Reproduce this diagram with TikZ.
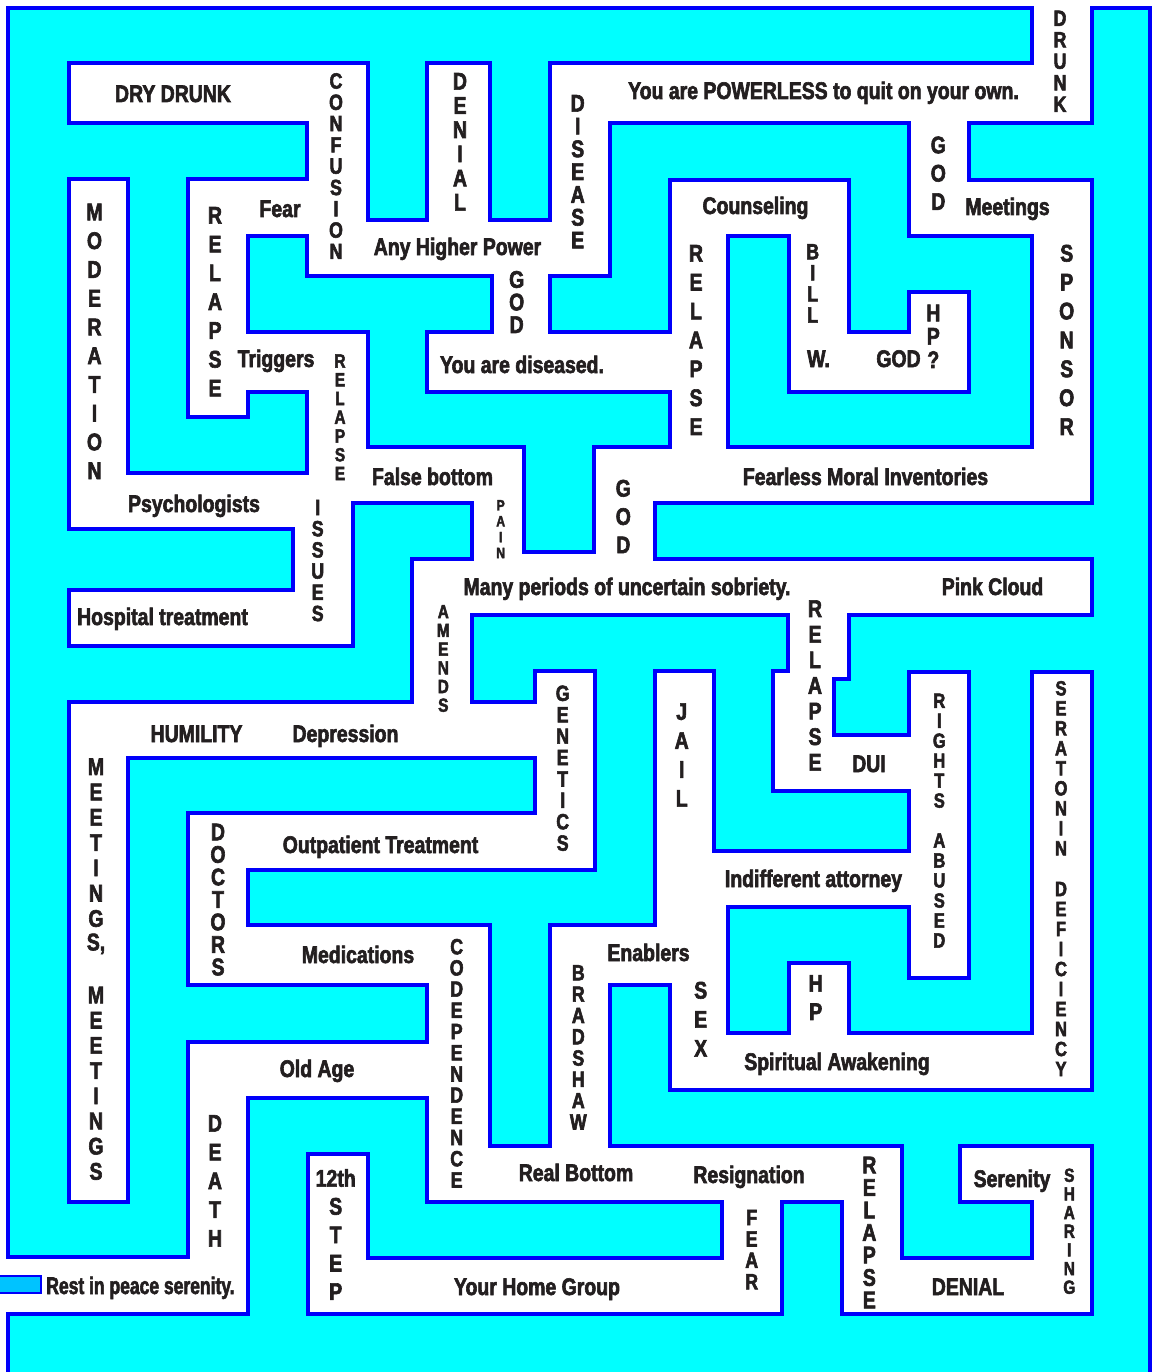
\documentclass[tikz,border=0pt]{standalone}
\usepackage{fontspec}
\usepackage{graphicx}
\setmainfont{Liberation Sans}[FakeStretch=0.81, BoldFeatures={FakeBold=2.5}]
\definecolor{wallcyan}{RGB}{0,255,255}
\definecolor{lineblue}{RGB}{0,0,250}
\definecolor{ink}{RGB}{35,31,32}
\definecolor{exitblue}{RGB}{0,195,255}

\tikzset{
  wall/.style={fill=wallcyan, draw=lineblue, line width=3.3pt},
  rim/.style={draw=lineblue, line width=3.3pt},
  floor/.style={fill=white},
  word/.style={text=ink, font=\fontsize{24}{24}\selectfont\bfseries, inner sep=0pt, anchor=base},
  letter/.style={text=ink, font=\fontsize{24}{24}\selectfont\bfseries, inner sep=0pt},
  stacked/.style={font=\fontsize{22}{22}\selectfont\bfseries},
  squeezed/.style={font=\fontsize{20.5}{20.5}\selectfont\bfseries},
  cramped/.style={font=\fontsize{19}{19}\selectfont\bfseries},
  minute/.style={font=\fontsize{15}{15}\selectfont\bfseries},
  exitbox/.style={fill=exitblue, draw=lineblue, line width=2.5pt}
}

% one letter under the other: [style]{name}{x}{y of first letter}{spacing}{letters}
\newcommand\vword[6][]{%
  \foreach \ch [count=\k from 0] in {#6}
    \node[letter,#1] (#2-\k) at (#3,#4+\k*#5) {\ch};}

% corridors: x1/y1/x2/y2 in pixels, y downwards
\newcommand\corridors{%
  69/63/368/123, 307/63/368/276, 188/179/368/236, 188/179/248/417,
  188/332/368/392, 307/332/368/503, 69/179/128/529, 69/473/353/529,
  293/473/353/646, 69/590/353/646, 307/447/524/503, 472/447/524/559,
  472/552/655/615, 594/447/655/559, 307/220/610/276, 427/63/490/276,
  550/63/610/276, 550/63/1092/123, 1032/-20/1092/123, 909/100/969/236,
  909/180/1092/236, 1032/180/1092/503, 492/250/550/350, 427/332/728/392,
  670/180/728/503, 670/180/849/236, 789/200/849/392, 789/332/969/392,
  909/292/969/392, 594/447/1092/503, 412/559/1092/615, 412/559/472/720,
  69/702/595/758, 535/671/595/870, 188/813/595/870, 69/702/128/1202,
  188/813/248/985, 188/925/490/985, 427/925/490/1202, 188/1042/490/1098,
  188/1042/248/1314, -20/1257/248/1314, 427/1146/902/1202, 308/1154/368/1314,
  308/1258/782/1314, 722/1146/782/1314, 842/1146/902/1314, 842/1258/1092/1314,
  1032/1146/1092/1314, 960/1146/1092/1202, 550/925/610/1170, 550/925/728/985,
  670/890/728/1090, 670/1033/1092/1090, 789/963/849/1050, 1032/672/1092/1090,
  909/672/969/978, 655/851/930/907, 655/671/714/940, 773/735/930/791,
  788/600/849/679, 773/671/834/791}

\begin{document}
\begin{tikzpicture}[x=1pt,y=-1pt]
\useasboundingbox (0,0) rectangle (1158,1372);
\clip (0,0) rectangle (1158,1372);

% walls
\path[wall] (8,8) rectangle (1150,1420);

% corridor outlines first, then the white floor over them
\foreach \xa/\ya/\xb/\yb in \corridors
  \draw[rim] (\xa,\ya) rectangle (\xb,\yb);
\foreach \xa/\ya/\xb/\yb in \corridors
  \fill[floor] (\xa+1.65,\ya+1.65) rectangle (\xb-1.65,\yb-1.65);

% margins and the way out
\fill[white] (-10,-10) rectangle (1170,6.3);
\fill[white] (-10,-10) rectangle (6.3,1400);
\draw[exitbox] (-5,1276) rectangle (41,1293);

% words along the corridors
\node[word] (drydrunk)    at (173,102)   {DRY DRUNK};
\node[word] (powerless)   at (823.5,99)  {You are POWERLESS to quit on your own.};
\node[word] (higher)      at (457.5,255) {Any Higher Power};
\node[word] (counseling)  at (755.5,214) {Counseling};
\node[word] (meetings)    at (1007.5,215) {Meetings};
\node[word] (fear)        at (280,217)   {Fear};
\node[word] (triggers)    at (276,367)   {Triggers};
\node[word] (diseased)    at (522,373)   {You are diseased.};
\node[word] (billw)       at (818.5,367) {W.};
\node[word] (godhp)       at (898.5,367) {GOD};
\node[word] (psych)       at (194,512)   {Psychologists};
\node[word] (hospital)    at (162.5,625) {Hospital treatment};
\node[word] (falsebottom) at (432.5,485) {False bottom};
\node[word] (fearless)    at (865.5,485) {Fearless Moral Inventories};
\node[word] (periods)     at (627,595)   {Many periods of uncertain sobriety.};
\node[word] (pinkcloud)   at (992.5,595) {Pink Cloud};
\node[word] (dui)         at (869,772)   {DUI};
\node[word] (humility)    at (196.5,742) {HUMILITY};
\node[word] (depression)  at (345.5,742) {Depression};
\node[word] (outpatient)  at (380.5,853) {Outpatient Treatment};
\node[word] (attorney)    at (813.5,887) {Indifferent attorney};
\node[word] (medications) at (358,963)   {Medications};
\node[word] (enablers)    at (648.5,961) {Enablers};
\node[word] (awakening)   at (837,1070)  {Spiritual Awakening};
\node[word] (oldage)      at (317,1077)  {Old Age};
\node[word] (realbottom)  at (576,1181)  {Real Bottom};
\node[word] (resignation) at (749,1183)  {Resignation};
\node[word] (serenity)    at (1012,1187) {Serenity};
\node[word] (denial)      at (968,1295)  {DENIAL};
\node[word] (homegroup)   at (537,1295)  {Your Home Group};
\node[word] (rip)         at (140.5,1294) {\scalebox{0.9}[1]{Rest in peace serenity.}};

% standing words
\vword[stacked]{confusion}{336}{81}{21.3}{C,O,N,F,U,S,I,O,N}
\vword{moderation}{94.5}{212}{28.75}{M,O,D,E,R,A,T,I,O,N}
\vword{relapseA}{215}{215.3}{28.8}{R,E,L,A,P,S,E}
\vword[cramped]{relapseB}{340}{361}{18.75}{R,E,L,A,P,S,E}
\vword{denialA}{460}{81.3}{24.2}{D,E,N,I,A,L}
\vword{disease}{577.7}{103.3}{22.8}{D,I,S,E,A,S,E}
\vword{godA}{516.7}{279.5}{22.6}{G,O,D}
\vword{relapseC}{696}{253.3}{28.9}{R,E,L,A,P,S,E}
\vword[stacked]{drunk}{1060}{18.3}{21.5}{D,R,U,N,K}
\vword{godB}{938.3}{145}{28.3}{G,O,D}
\vword[stacked]{bill}{812.7}{251.7}{21.1}{B,I,L,L}
\vword{sponsor}{1066.7}{253.3}{28.9}{S,P,O,N,S,O,R}
\vword{hpA}{933.3}{313}{23.3}{H,P,?}
\vword[stacked]{issues}{317.7}{507.5}{21.2}{I,S,S,U,E,S}
\vword[minute]{pain}{500.7}{505.3}{15.9}{P,A,I,N}
\vword{godC}{623.3}{488.3}{28.3}{G,O,D}
\vword[cramped]{amends}{443.3}{611.7}{18.7}{A,M,E,N,D,S}
\vword[stacked]{genetics}{562.7}{693.3}{21.4}{G,E,N,E,T,I,C,S}
\vword{jail}{681.7}{711.7}{28.9}{J,A,I,L}
\vword{relapseD}{815}{608.7}{25.6}{R,E,L,A,P,S,E}
\vword[squeezed]{rights}{939.3}{700.8}{19.95}{R,I,G,H,T,S}
\vword[squeezed]{abused}{939.3}{840.5}{20}{A,B,U,S,E,D}
\vword[squeezed]{seratonin}{1061}{688.3}{20}{S,E,R,A,T,O,N,I,N}
\vword[squeezed]{deficiency}{1061}{889}{20}{D,E,F,I,C,I,E,N,C,Y}
\vword{meetingsA}{96}{766.7}{25.3}{M,E,E,T,I,N,G,{S,}}
\vword{meetingsB}{96}{995}{25.2}{M,E,E,T,I,N,G,S}
\vword{doctors}{218}{832}{22.5}{D,O,C,T,O,R,S}
\vword[stacked]{codependence}{456.7}{946.7}{21.2}{C,O,D,E,P,E,N,D,E,N,C,E}
\vword[stacked]{bradshaw}{578.3}{972.8}{21.3}{B,R,A,D,S,H,A,W}
\vword{sex}{700.7}{990.3}{29}{S,E,X}
\vword{hpB}{815.7}{983.3}{28.4}{H,P}
\vword{death}{215}{1123.3}{28.75}{D,E,A,T,H}
\vword{step}{335.7}{1178}{28.4}{12th,S,T,E,P}
\vword[stacked]{fearB}{751.7}{1217.5}{21.4}{F,E,A,R}
\vword{relapseE}{869.3}{1165}{22.5}{R,E,L,A,P,S,E}
\vword[cramped]{sharing}{1069.3}{1175.3}{18.65}{S,H,A,R,I,N,G}
\end{tikzpicture}
\end{document}
